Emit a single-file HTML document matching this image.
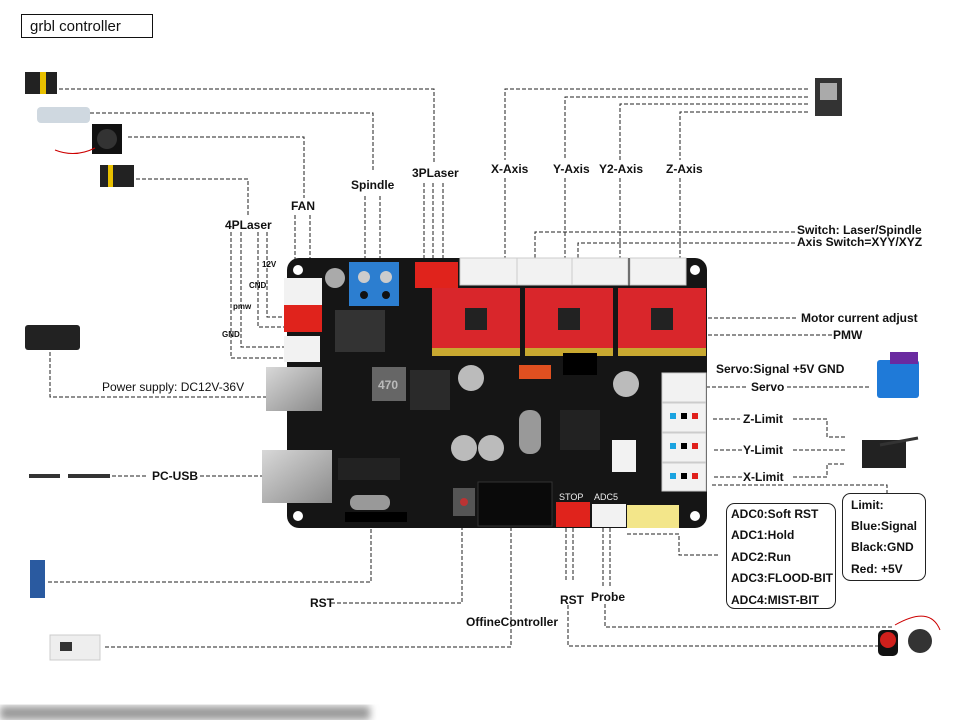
<!DOCTYPE html>
<html><head><meta charset="utf-8"><style>
body{margin:0;background:#fff;}
svg{display:block}
text{font-family:"Liberation Sans",sans-serif;font-weight:bold;fill:#111;}
</style></head><body>
<svg width="960" height="720" viewBox="0 0 960 720">
<defs>
<linearGradient id="sil" x1="0" y1="0" x2="1" y2="1"><stop offset="0" stop-color="#d8d8d8"/><stop offset="1" stop-color="#8a8a8a"/></linearGradient>
<filter id="bl"><feGaussianBlur stdDeviation="4"/></filter>
</defs>
<!-- title -->
<rect x="21.5" y="14.5" width="131" height="23" fill="#fff" stroke="#111"/>
<text x="30" y="31" font-size="15" style="font-weight:normal">grbl controller</text>

<!-- dashed lines -->
<g fill="none" stroke="#222" stroke-width="1" stroke-dasharray="4,2">
<path d="M53 89H434V163"/><path d="M90 113H373V171"/><path d="M128 137H304V198"/><path d="M130 179H248V215"/>
<path d="M424 183V262M433 183V262M443 183V262"/>
<path d="M365 196V264M380 196V264"/>
<path d="M295 215V297M310 215V297"/>
<path d="M231 232V358H305M241 232V347H297M258 232V327H297M267 232V317H298"/>
<path d="M50 352V397H266"/>
<path d="M112 476H148M200 476H262"/>
<path d="M48 582H371V528"/>
<path d="M331 603H462V528"/>
<path d="M105 647H511V528"/>
<path d="M566 528V582M573 528V582M568 605V646H893"/>
<path d="M603 528V588M610 528V588M605 604V627H892"/>
<path d="M627 534H679V555H720"/>
<path d="M712 485H887V493"/>
<path d="M706 387H748M787 387H870"/>
<path d="M713 419H740M793 419H827V437H845"/>
<path d="M714 450H742M793 450H845"/>
<path d="M714 477H742M793 477H827V464H845"/>
<path d="M808 89H505V160M505 178V258"/>
<path d="M808 97H565V160M565 178V258"/>
<path d="M808 104H620V160M620 178V258"/>
<path d="M808 112H680V160M680 178V258"/>
<path d="M795 232H535V375"/><path d="M795 243H578V365"/>
<path d="M690 318H797"/><path d="M630 335H832"/>
</g>

<!-- board -->
<rect x="287" y="258" width="420" height="270" rx="12" fill="#151515"/>
<circle cx="298" cy="270" r="5" fill="#fff"/><circle cx="695" cy="270" r="5" fill="#fff"/>
<circle cx="298" cy="516" r="5" fill="#fff"/><circle cx="695" cy="516" r="5" fill="#fff"/>
<!-- top connectors -->
<g fill="#f2f2f2" stroke="#ccc"><rect x="460" y="258" width="57" height="27"/><rect x="517" y="258" width="55" height="27"/><rect x="572" y="258" width="56" height="27"/><rect x="630" y="258" width="56" height="27"/></g>
<rect x="415" y="262" width="43" height="26" fill="#e0231c"/>
<rect x="349" y="262" width="50" height="44" fill="#2c7ed0"/>
<circle cx="364" cy="277" r="6" fill="#ccc"/><circle cx="386" cy="277" r="6" fill="#ccc"/>
<circle cx="364" cy="295" r="4" fill="#111"/><circle cx="386" cy="295" r="4" fill="#111"/>
<circle cx="335" cy="278" r="10" fill="#aaa"/>
<!-- drivers -->
<g>
<rect x="432" y="288" width="88" height="68" fill="#d9262b"/><rect x="432" y="348" width="88" height="8" fill="#c8a830"/><rect x="465" y="308" width="22" height="22" fill="#222"/>
<rect x="525" y="288" width="88" height="68" fill="#d9262b"/><rect x="525" y="348" width="88" height="8" fill="#c8a830"/><rect x="558" y="308" width="22" height="22" fill="#222"/>
<rect x="618" y="288" width="88" height="68" fill="#d9262b"/><rect x="618" y="348" width="88" height="8" fill="#c8a830"/><rect x="651" y="308" width="22" height="22" fill="#222"/>
</g>
<!-- left connectors -->
<rect x="284" y="278" width="38" height="27" fill="#f2f2f2"/>
<rect x="284" y="305" width="38" height="27" fill="#e0231c"/>
<rect x="284" y="336" width="36" height="26" fill="#f2f2f2"/>
<rect x="266" y="367" width="56" height="44" fill="url(#sil)"/>
<rect x="262" y="450" width="70" height="53" fill="url(#sil)"/>
<!-- misc components -->
<rect x="335" y="310" width="50" height="42" fill="#333"/>
<rect x="372" y="367" width="34" height="34" fill="#666"/><text x="378" y="389" font-size="12" fill="#ccc" style="fill:#bbb">470</text>
<rect x="410" y="370" width="40" height="40" fill="#2a2a2a"/>
<circle cx="471" cy="378" r="13" fill="#bbb"/><circle cx="626" cy="384" r="13" fill="#bbb"/>
<circle cx="464" cy="448" r="13" fill="#bbb"/><circle cx="491" cy="448" r="13" fill="#bbb"/>
<rect x="519" y="410" width="22" height="44" rx="10" fill="#999"/>
<rect x="560" y="410" width="40" height="40" fill="#222"/>
<rect x="338" y="458" width="62" height="22" fill="#222"/>
<rect x="350" y="495" width="40" height="15" rx="7" fill="#999"/>
<rect x="345" y="512" width="62" height="10" fill="#000"/>
<rect x="453" y="488" width="22" height="28" fill="#555"/><circle cx="464" cy="502" r="4" fill="#b33"/>
<rect x="478" y="482" width="74" height="44" fill="#0a0a0a" stroke="#333"/>
<rect x="519" y="365" width="32" height="14" fill="#e05020"/>
<rect x="563" y="353" width="34" height="22" fill="#000"/>
<rect x="612" y="440" width="24" height="32" fill="#f2f2f2"/>
<!-- right connectors -->
<g fill="#f2f2f2" stroke="#ccc"><rect x="662" y="373" width="44" height="29"/><rect x="662" y="403" width="44" height="29"/><rect x="662" y="433" width="44" height="29"/><rect x="662" y="463" width="44" height="28"/></g>
<g><rect x="670" y="413" width="6" height="6" fill="#1aa3e0"/><rect x="681" y="413" width="6" height="6" fill="#000"/><rect x="692" y="413" width="6" height="6" fill="#e0201c"/>
<rect x="670" y="443" width="6" height="6" fill="#1aa3e0"/><rect x="681" y="443" width="6" height="6" fill="#000"/><rect x="692" y="443" width="6" height="6" fill="#e0201c"/>
<rect x="670" y="473" width="6" height="6" fill="#1aa3e0"/><rect x="681" y="473" width="6" height="6" fill="#000"/><rect x="692" y="473" width="6" height="6" fill="#e0201c"/></g>
<rect x="556" y="502" width="34" height="25" fill="#e0231c"/>
<rect x="592" y="504" width="34" height="23" fill="#f2f2f2"/>
<rect x="627" y="505" width="52" height="23" fill="#f3e68a"/>
<text x="559" y="500" font-size="9" style="fill:#eee;font-weight:normal">STOP</text>
<text x="594" y="500" font-size="9" style="fill:#eee;font-weight:normal">ADC5</text>

<!-- peripheral images -->
<rect x="25" y="72" width="32" height="22" fill="#222"/><rect x="40" y="72" width="6" height="22" fill="#e8c000"/>
<rect x="37" y="107" width="53" height="16" rx="4" fill="#cfd8e0"/>
<rect x="92" y="124" width="30" height="30" fill="#111"/><circle cx="107" cy="139" r="10" fill="#333"/><path d="M55 150Q75 158 95 148" stroke="#c00" fill="none"/>
<rect x="100" y="165" width="34" height="22" fill="#222"/><rect x="108" y="165" width="5" height="22" fill="#e8c000"/>
<rect x="25" y="325" width="55" height="25" rx="3" fill="#222"/>
<path d="M29 476H60M68 476H110" stroke="#333" stroke-width="4"/>
<rect x="30" y="560" width="15" height="38" fill="#2a5aa0"/>
<rect x="50" y="635" width="50" height="25" fill="#eee" stroke="#ccc"/><rect x="60" y="642" width="12" height="9" fill="#333"/>
<rect x="815" y="78" width="27" height="38" fill="#333"/><rect x="820" y="83" width="17" height="17" fill="#aaa"/>
<rect x="877" y="360" width="42" height="38" rx="3" fill="#1f7ad8"/><rect x="890" y="352" width="28" height="12" fill="#6a2aa0"/>
<rect x="862" y="440" width="44" height="28" fill="#222"/><path d="M880 445L918 438" stroke="#333" stroke-width="3"/>
<rect x="878" y="630" width="20" height="26" rx="5" fill="#111"/><circle cx="888" cy="640" r="8" fill="#d0201c"/>
<circle cx="920" cy="641" r="12" fill="#333"/><path d="M895 625Q930 605 940 630" stroke="#c00" fill="none"/>
<rect x="0" y="706" width="370" height="14" fill="#999" filter="url(#bl)"/>

<!-- labels -->
<g font-size="12">
<text x="412" y="177">3PLaser</text>
<text x="351" y="189">Spindle</text>
<text x="291" y="210">FAN</text>
<text x="225" y="229">4PLaser</text>
<text x="262" y="267" font-size="8">12V</text>
<text x="249" y="288" font-size="8">CND</text>
<text x="233" y="309" font-size="8">pmw</text>
<text x="222" y="337" font-size="8">GND</text>
<text x="102" y="391" style="font-weight:normal">Power supply: DC12V-36V</text>
<text x="152" y="480">PC-USB</text>
<text x="310" y="607">RST</text>
<text x="466" y="626">OffineController</text>
<text x="560" y="604">RST</text>
<text x="591" y="601">Probe</text>
<text x="491" y="173">X-Axis</text>
<text x="553" y="173">Y-Axis</text>
<text x="599" y="173">Y2-Axis</text>
<text x="666" y="173">Z-Axis</text>
<text x="797" y="234">Switch: Laser/Spindle</text>
<text x="797" y="246">Axis Switch=XYY/XYZ</text>
<text x="801" y="322">Motor current adjust</text>
<text x="833" y="339">PMW</text>
<text x="716" y="373">Servo:Signal  +5V   GND</text>
<text x="751" y="391">Servo</text>
<text x="743" y="423">Z-Limit</text>
<text x="743" y="454">Y-Limit</text>
<text x="743" y="481">X-Limit</text>
</g>
<rect x="726.5" y="503.5" width="109" height="105" rx="8" fill="#fff" stroke="#222"/>
<g font-size="12"><text x="731" y="518">ADC0:Soft RST</text><text x="731" y="539">ADC1:Hold</text><text x="731" y="561">ADC2:Run</text><text x="731" y="582">ADC3:FLOOD-BIT</text><text x="731" y="604">ADC4:MIST-BIT</text></g>
<rect x="842.5" y="493.5" width="83" height="87" rx="8" fill="#fff" stroke="#222"/>
<g font-size="12"><text x="851" y="509">Limit:</text><text x="851" y="530">Blue:Signal</text><text x="851" y="551">Black:GND</text><text x="851" y="573">Red:   +5V</text></g>
</svg>
</body></html>
